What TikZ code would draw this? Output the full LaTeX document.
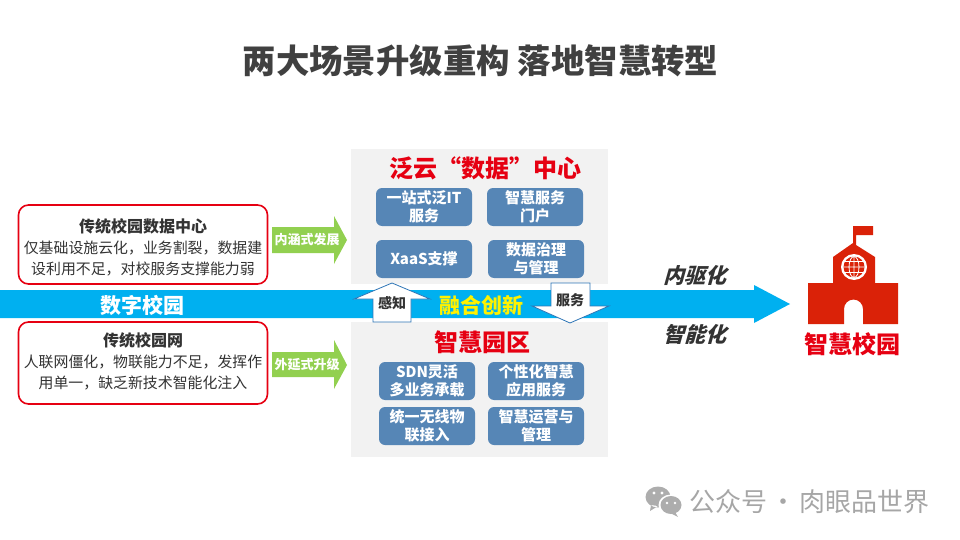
\documentclass[tikz,border=0pt]{standalone}
\usepackage{fontspec}
\setmainfont{Noto Sans CJK SC}
\definecolor{panelgray}{HTML}{F2F2F2}
\definecolor{btnblue}{HTML}{5686B6}
\definecolor{barblue}{HTML}{00B0F0}
\definecolor{leafgreen}{HTML}{92D050}
\definecolor{alertred}{HTML}{E60012}
\definecolor{iconred}{HTML}{DA2208}
\definecolor{darktext}{HTML}{333333}
\definecolor{popline}{HTML}{2E75B6}
\newcommand{\fsz}[2]{\fontsize{#1}{#2}\selectfont}
\tikzset{
  btn/.style={fill=btnblue, rounded corners=6pt, minimum width=96pt, minimum height=38pt, inner sep=0pt,
    text=white, align=center, font=\fsz{15}{18}\bfseries},
  redbox/.style={draw=alertred, line width=1.6pt, fill=white, rounded corners=10pt},
  boxtext/.style={inner sep=0pt, text=darktext, align=center, font=\fsz{14.9}{21}},
  growlabel/.style={white, font=\fsz{13}{15}\bfseries, inner sep=0pt},
  headlabel/.style={alertred, font=\fsz{24}{28}\bfseries, inner sep=0pt},
  tilted/.style={darktext, font=\fsz{21}{25}\bfseries, xslant=0.28, inner sep=0pt},
  popout/.style={draw=popline, line width=0.8pt, fill=white},
}
\begin{document}
\begin{tikzpicture}[x=1pt,y=-1pt]
  \useasboundingbox (0,0) rectangle (960,540);
  \node (title) at (480.5,61) [text=black!75, font=\fsz{33.4}{38}\bfseries, inner sep=0pt] {两大场景升级重构\hspace{8pt}落地智慧转型};

  % the two gray panels
  \fill[panelgray] (351,149) rectangle (608,284);
  \fill[panelgray] (351,322) rectangle (608,457);

  % main bar
  \fill[barblue] (0,290) -- (754,290) -- (754,285) -- (790,304) -- (754,323) -- (754,318) -- (0,318) -- cycle;
  \node (campus) at (142,305) [white, font=\fsz{21}{25}\bfseries, inner sep=0pt] {数字校园};
  \node (fusion) at (481,305) [yellow, font=\fsz{21}{25}\bfseries, inner sep=0pt] {融合创新};

  % left boxes
  \draw[redbox] (18.5,205) rectangle (267.5,284);
  \draw[redbox] (18.5,322) rectangle (267.5,404);
  \node (olddc) at (143,247.5) [boxtext] {{\fsz{16}{22}\bfseries 传统校园数据中心}\\仅基础设施云化，业务割裂，数据建\\设利用不足，对校服务支撑能力弱};
  \node (oldnet) at (143,361) [boxtext] {{\fsz{16}{21}\bfseries 传统校园网}\\人联网僵化，物联能力不足，发挥作\\用单一，缺乏新技术智能化注入};

  % green arrows
  \fill[leafgreen] (272,227) -- (334,227) -- (334,216) -- (347,240) -- (334,264) -- (334,253) -- (272,253) -- cycle;
  \fill[leafgreen] (272,352) -- (334,352) -- (334,340) -- (347,365) -- (334,389) -- (334,377) -- (272,377) -- cycle;
  \node (inner) at (307,240) [growlabel] {内涵式发展};
  \node (outer) at (307,365) [growlabel] {外延式升级};

  % upper panel
  \node (cloud) at (485,168) [headlabel] {泛云“数据”中心};
  \node (b1) at (424,207) [btn] {一站式泛IT\\服务};
  \node (b2) at (535,207) [btn] {智慧服务\\门户};
  \node (b3) at (424,259) [btn] {XaaS支撑};
  \node (b4) at (536,259) [btn] {数据治理\\与管理};

  % lower panel
  \node (park) at (482,342) [headlabel] {智慧园区};
  \node (b5) at (427,381) [btn] {SDN灵活\\多业务承载};
  \node (b6) at (536,381) [btn] {个性化智慧\\应用服务};
  \node (b7) at (427,426) [btn] {统一无线物\\联接入};
  \node (b8) at (536,426) [btn] {智慧运营与\\管理};

  % up and down arrows across the bar
  \draw[popout] (392,283) -- (430,299) -- (411,299) -- (411,322) -- (373,322) -- (373,299) -- (354,299) -- cycle;
  \draw[popout] (551,283) -- (590,283) -- (590,306) -- (609,306) -- (570,323) -- (532,306) -- (551,306) -- cycle;
  \node (sense) at (392,303.5) [text=darktext, font=\fsz{14}{16}\bfseries, inner sep=0pt] {感知};
  \node (serve) at (570,300) [text=darktext, font=\fsz{14}{16}\bfseries, inner sep=0pt] {服务};

  \node (drive) at (697,275) [tilted] {内驱化};
  \node (smart) at (697,334.5) [tilted] {智能化};

  % school
  \fill[iconred] (853,226) -- (873,226) -- (873,235) -- (856,235) -- (856,245) -- (875,257) -- (875,283) -- (898,283) -- (898,324)
    -- (863,324) -- (863,309) arc (0:-180:9.5) -- (844,324) -- (808,324) -- (808,283) -- (833,283) -- (833,257) -- (853,243) -- cycle;
  \fill[white] (854,267) circle (13);
  \fill[iconred] (854,267) circle (10.5);
  \draw[white, line width=0.8pt] (854,267) circle (5 and 10.5) (854,256.5) -- (854,277.5) (843.5,267) -- (864.5,267)
    (845,261.5) -- (863,261.5) (845,272.5) -- (863,272.5);
  \node (smartcampus) at (852,344) [headlabel] {智慧校园};

  % wechat mark
  \fill[black!32] (658,497) ellipse (12.5 and 10.5) (651,505) -- (650,511) -- (658,506) -- cycle;
  \fill[white] (671,505) ellipse (12.5 and 10.5);
  \fill[black!32] (671,505) ellipse (10.5 and 9) (675,512) -- (678,517) -- (668,512) -- cycle;
  \fill[white] (654,493) circle (1.6) (662,493) circle (1.6) (667,503) circle (1.4) (675,503) circle (1.4);
  \node (mark) at (689,502) [anchor=west, text=black!35, font=\fsz{26}{30}, inner sep=0pt] {公众号\hspace{-2.5pt} · \hspace{-2.5pt}肉眼品世界};
\end{tikzpicture}
\end{document}
